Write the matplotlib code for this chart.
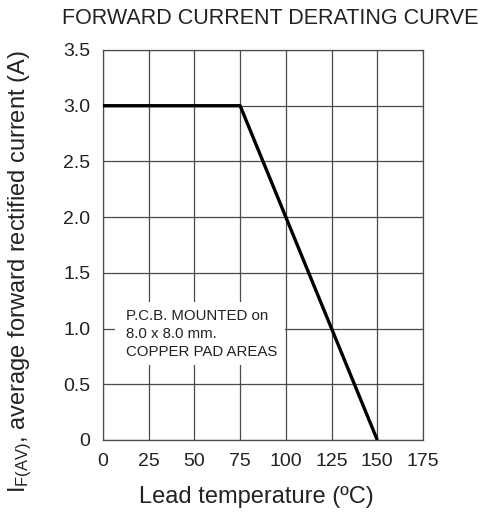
import matplotlib
matplotlib.use("Agg")
import matplotlib.pyplot as plt
from matplotlib.patches import Rectangle

plt.rcParams['font.family'] = ['Liberation Sans', 'DejaVu Sans']
plt.rcParams['mathtext.fontset'] = 'custom'
plt.rcParams['mathtext.rm'] = 'Liberation Sans'
plt.rcParams['mathtext.it'] = 'Liberation Sans'

# Data
temperature = [0, 75, 150]
current = [3.0, 3.0, 0.0]
x_ticks = [0, 25, 50, 75, 100, 125, 150, 175]
x_tick_labels = ["0", "25", "50", "75", "100", "125", "150", "175"]
y_ticks = [0, 0.5, 1.0, 1.5, 2.0, 2.5, 3.0, 3.5]
y_tick_labels = ["0", "0.5", "1.0", "1.5", "2.0", "2.5", "3.0", "3.5"]

txt = '#222222'
grid_c = '#4a4a4a'

fig = plt.figure(figsize=(4.81, 5.13), dpi=100)
ax = fig.add_axes([103/481, 1-440/513, 320/481, 390/513])

ax.set_xlim(0, 175)
ax.set_ylim(0, 3.5)
ax.set_xticks(x_ticks)
ax.set_xticklabels(x_tick_labels)
ax.set_yticks(y_ticks)
ax.set_yticklabels(y_tick_labels)
ax.tick_params(length=0, labelsize=14, colors=txt, pad=9)
ax.grid(True, color=grid_c, lw=0.9)
for s in ax.spines.values():
    s.set_color(grid_c)
    s.set_linewidth(0.9)

ax.plot(temperature, current, color='black', lw=2.4, solid_capstyle='butt', zorder=3)

ax.add_patch(Rectangle((0.0375, 0.192), 0.53, 0.162, transform=ax.transAxes,
                       facecolor='white', edgecolor='none', zorder=2.5))
ax.text(0.072, 0.272, "P.C.B. MOUNTED on\n8.0 x 8.0 mm.\nCOPPER PAD AREAS",
        transform=ax.transAxes, fontsize=10.8, color=txt, va='center', ha='left',
        linespacing=1.4, zorder=4)

fig.text(270/481, 1-18/513, "FORWARD CURRENT DERATING CURVE", ha='center', va='center',
         fontsize=15.5, color=txt)
fig.text(256/481, 1-497/513, "Lead temperature (ºC)", ha='center', va='center',
         fontsize=17, color=txt)
fig.text(20/481, 1-272/513, r"I$_{\mathrm{F(AV)}}$, average forward rectified current (A)",
         ha='center', va='center', rotation=90, fontsize=17, color=txt)

fig.savefig("out.png", dpi=100)
